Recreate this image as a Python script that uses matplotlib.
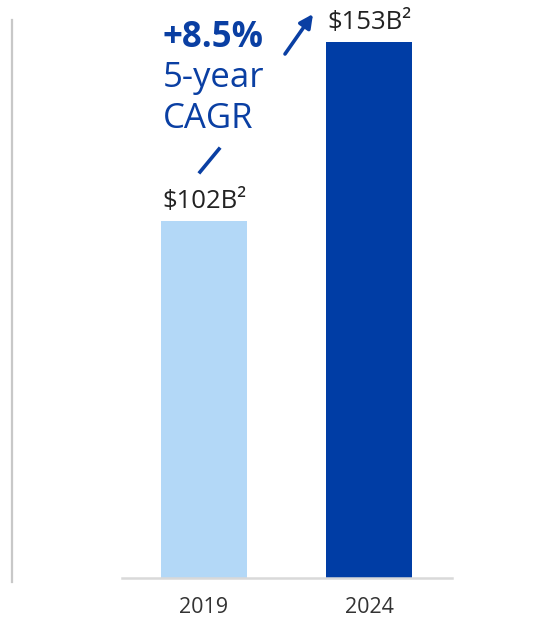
import matplotlib
matplotlib.use("Agg")
import matplotlib.pyplot as plt
from matplotlib.lines import Line2D

plt.rcParams['font.family'] = ['Open Sans', 'DejaVu Sans']

categories = ["2019", "2024"]
values = [102, 153]
value_labels = ["$102B²", "$153B²"]
bar_colors = ["#b3d8f7", "#003da5"]
cagr_main = "+8.5%"
cagr_line2 = "5-year"
cagr_line3 = "CAGR"

W, H = 534, 621
fig = plt.figure(figsize=(W / 100, H / 100), dpi=100)

base_px = 578
left_px, right_px = 122, 452
ax = fig.add_axes([left_px / W, (H - base_px) / H, (right_px - left_px) / W, base_px / H])
ymax = 165
ax.set_ylim(0, ymax)
ax.set_xlim(-0.497, 1.503)
x = list(range(len(categories)))
ax.bar(x, values, width=0.527, color=bar_colors, zorder=2)

for s in ["top", "right", "left"]:
    ax.spines[s].set_visible(False)
ax.spines["bottom"].set_color("#d9d9d9")
ax.spines["bottom"].set_linewidth(1.8)
ax.set_yticks([])
ax.set_xticks(x)
ax.set_xticklabels(categories, fontsize=15.5, color="#333333")
ax.tick_params(axis="x", length=0, pad=14)

for xi, v, lab in zip(x, values, value_labels):
    ax.annotate(lab, (xi, v), xytext=(0, 5), textcoords="offset points",
                ha="center", va="bottom", fontsize=18.5, color="#222222")

def fp(px, py):
    return (px / W, 1 - py / H)

# left vertical gray line
fig.add_artist(Line2D([12 / W, 12 / W], [1 - 20 / H, 1 - 582 / H],
                      transform=fig.transFigure, color="#c8c8c8", lw=1.6))

blue = "#0a3fa3"
fig.text(*fp(163, 38), cagr_main, fontsize=25, fontweight="bold", color=blue,
         ha="left", va="center")
fig.text(*fp(163, 78), cagr_line2, fontsize=25, color=blue, ha="left", va="center")
fig.text(*fp(163, 119), cagr_line3, fontsize=25, color=blue, ha="left", va="center")

# arrow and connector
fig.add_artist(Line2D([200 / W, 219 / W], [1 - 172 / H, 1 - 149 / H],
                      transform=fig.transFigure, color=blue, lw=2.6))
ax.annotate("", xy=fp(313, 14), xytext=fp(285, 54), xycoords="figure fraction",
            textcoords="figure fraction",
            arrowprops=dict(arrowstyle="-|>,head_length=0.8,head_width=0.4",
                            color=blue, lw=2.6, shrinkA=0, shrinkB=0))

fig.savefig("out.png", dpi=100)
